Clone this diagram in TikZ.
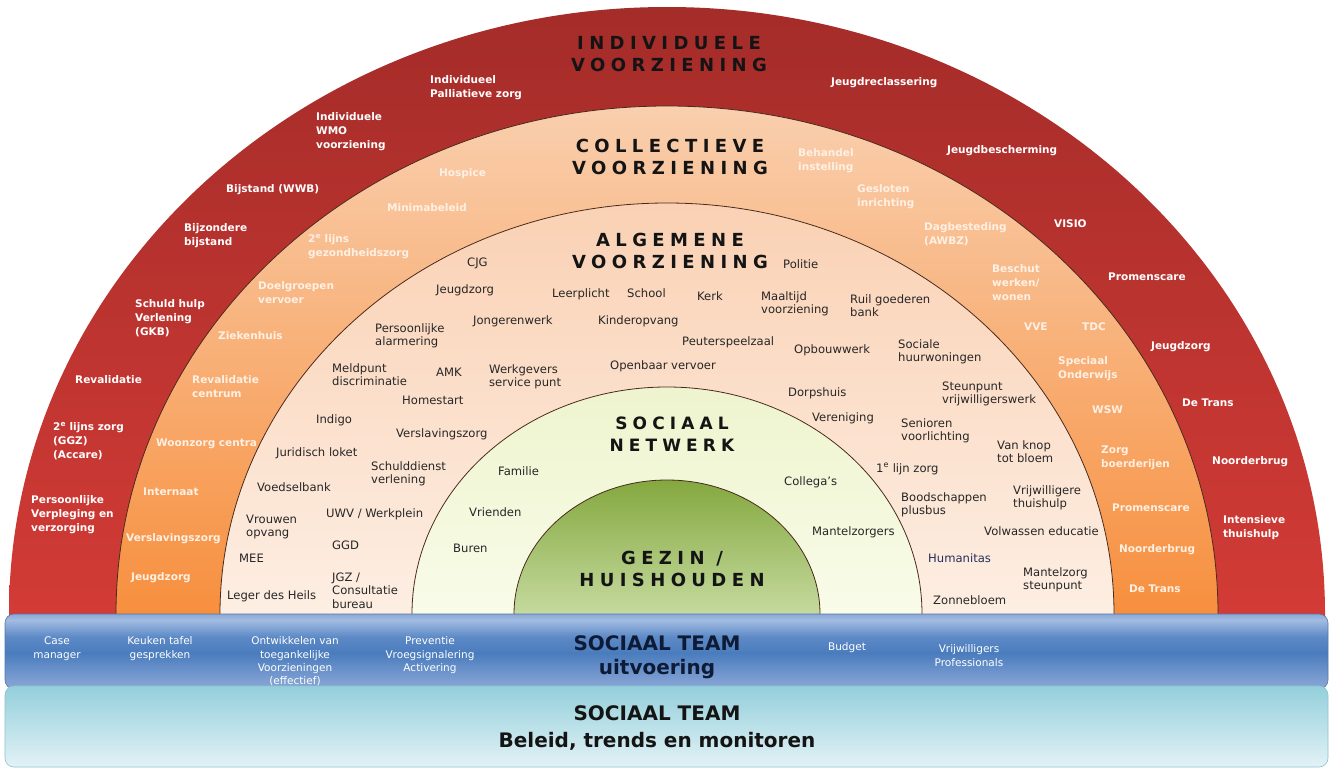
\documentclass[tikz,border=0pt]{standalone}
\usepackage{fontspec}
\setmainfont{DejaVu Sans}
\newfontfamily\headfont{DejaVu Sans}[LetterSpace=30]
\definecolor{redtop}{HTML}{A42C29}
\definecolor{redbot}{HTML}{D33B36}
\definecolor{ortop}{HTML}{F9CFAE}
\definecolor{orbot}{HTML}{F78E3C}
\definecolor{altop}{HTML}{FAD1B4}
\definecolor{albot}{HTML}{FDEFE4}
\definecolor{nwtop}{HTML}{EEF4CE}
\definecolor{nwbot}{HTML}{F9FCEA}
\definecolor{gztop}{HTML}{84A83F}
\definecolor{gzbot}{HTML}{C9DDA4}
\definecolor{ortext}{HTML}{FFF0E4}
\definecolor{altext}{HTML}{262626}
\definecolor{hdtext}{HTML}{141414}
\definecolor{navytext}{HTML}{0E1B36}
\definecolor{humtext}{HTML}{23305A}
\definecolor{ringline}{HTML}{4A2A1C}
\definecolor{bbA}{HTML}{8CA8D7}
\definecolor{bbB}{HTML}{6F95CC}
\definecolor{bbC}{HTML}{4A7CBD}
\definecolor{bbD}{HTML}{5E8AC6}
\definecolor{bbE}{HTML}{A2BCE2}
\definecolor{bbF}{HTML}{8BA8D6}
\definecolor{blueline}{HTML}{5577A8}
\definecolor{cyanA}{HTML}{93CFDB}
\definecolor{cyanC}{HTML}{E3F2F6}
\definecolor{cyanline}{HTML}{8CC2D2}
\pgfdeclareverticalshading{bluebar}{100bp}{color(0bp)=(bbA); color(25bp)=(bbA); color(36bp)=(bbB); color(49bp)=(bbC); color(60bp)=(bbD); color(71bp)=(bbE); color(75bp)=(bbF); color(100bp)=(bbF)}
\newcommand{\semiell}[5]{%
  \shade[top color=#3, bottom color=#4, draw=#5, line width=0.8pt]
    (667-#1,622) -- (667-#1,614) arc[start angle=180, end angle=0, x radius=#1pt, y radius=#2pt] -- (667+#1,622) -- cycle;}
\tikzset{
  rl/.style={font=\fontsize{10.5}{13.8}\selectfont\bfseries, text=white, align=left, anchor=base west, inner sep=0pt, yshift={-3.8pt-(#1-1)*13.8pt}},
  rl/.default=1,
  ol/.style={rl=#1, text=ortext},
  ol/.default=1,
  al/.style={font=\fontsize{11.6}{13.8}\selectfont, text=altext, align=left, anchor=base west, inner sep=0pt, yshift={-4pt-(#1-1)*13.8pt}},
  al/.default=1,
  hd/.style={font=\headfont\bfseries\fontsize{18}{21.5}\selectfont, text=hdtext, align=center, anchor=base, inner sep=0pt, yshift=-28pt},
  bl/.style={font=\fontsize{10.5}{13.4}\selectfont, text=white, align=center, anchor=base, inner sep=0pt, yshift={-3.7pt-(#1-1)*13.4pt}},
  bl/.default=1,
  st/.style={font=\fontsize{20}{24}\selectfont\bfseries, align=center, anchor=base, inner sep=0pt, yshift=-31.3pt},
}
\begin{document}
\begin{tikzpicture}[x=1pt,y=-1pt]
\useasboundingbox (0,0) rectangle (1334,771);
\fill[white] (0,0) rectangle (1334,771);
% rings
\semiell{658}{607}{redtop}{redbot}{none}
\semiell{551}{508}{ortop}{orbot}{ringline}
\semiell{447}{411}{altop}{albot}{ringline}
\semiell{255}{227}{nwtop}{nwbot}{ringline}
\semiell{153}{134}{gztop}{gzbot}{ringline}
% headings
\node[hd] (hInd) at (669,43) {INDIVIDUELE\\VOORZIENING};
\node[hd] (hCol) at (670,146) {COLLECTIEVE\\VOORZIENING};
\node[hd] (hAlg) at (670,240) {ALGEMENE\\VOORZIENING};
\node[hd, font=\headfont\bfseries\fontsize{17}{21.5}\selectfont] (hNet) at (672,423) {SOCIAAL\\NETWERK};
\node[hd] (hGez) at (672,558) {GEZIN /\\HUISHOUDEN};
% red ring
\node[rl=2] (r1) at (430,80) {Individueel\\Palliatieve zorg};
\node[rl=3] (r2) at (316,117) {Individuele\\WMO\\voorziening};
\node[rl] (r3) at (226,189) {Bijstand (WWB)};
\node[rl=2] (r4) at (184,228) {Bijzondere\\bijstand};
\node[rl=3] (r5) at (135,304) {Schuld hulp\\Verlening\\(GKB)};
\node[rl] (r6) at (75,380) {Revalidatie};
\node[rl=3] (r7) at (53,427) {2\textsuperscript{e} lijns zorg\\(GGZ)\\(Accare)};
\node[rl=3] (r8) at (31,500) {Persoonlijke\\Verpleging en\\verzorging};
\node[rl] (r9) at (831,82) {Jeugdreclassering};
\node[rl] (r10) at (947,150) {Jeugdbescherming};
\node[rl] (r11) at (1054,224) {VISIO};
\node[rl] (r12) at (1108,277) {Promenscare};
\node[rl] (r13) at (1151,346) {Jeugdzorg};
\node[rl] (r14) at (1182,403) {De Trans};
\node[rl] (r15) at (1212,461) {Noorderbrug};
\node[rl=2] (r16) at (1223,520) {Intensieve\\thuishulp};
% orange ring
\node[ol] (o1) at (439,173) {Hospice};
\node[ol] (o2) at (387,208) {Minimabeleid};
\node[ol=2] (o3) at (308,239) {2\textsuperscript{e} lijns\\gezondheidszorg};
\node[ol=2] (o4) at (258,286) {Doelgroepen\\vervoer};
\node[ol] (o5) at (218,336) {Ziekenhuis};
\node[ol=2] (o6) at (192,380) {Revalidatie\\centrum};
\node[ol] (o7) at (156,443) {Woonzorg centra};
\node[ol] (o8) at (143,492) {Internaat};
\node[ol] (o9) at (126,538) {Verslavingszorg};
\node[ol] (o10) at (131,577) {Jeugdzorg};
\node[ol=2] (o11) at (798,153) {Behandel\\instelling};
\node[ol=2] (o12) at (857,189) {Gesloten\\inrichting};
\node[ol=2] (o13) at (924,227) {Dagbesteding\\(AWBZ)};
\node[ol=3] (o14) at (992,269) {Beschut\\werken/\\wonen};
\node[ol] (o15) at (1024,327) {VVE};
\node[ol] (o16) at (1082,327) {TDC};
\node[ol=2] (o17) at (1058,361) {Speciaal\\Onderwijs};
\node[ol] (o18) at (1092,410) {WSW};
\node[ol=2] (o19) at (1101,450) {Zorg\\boerderijen};
\node[ol] (o20) at (1112,508) {Promenscare};
\node[ol] (o21) at (1119,549) {Noorderbrug};
\node[ol] (o22) at (1129,589) {De Trans};
% algemene
\node[al] (a1) at (467,262) {CJG};
\node[al] (a2) at (436,289) {Jeugdzorg};
\node[al] (a3) at (552,293) {Leerplicht};
\node[al] (a4) at (627,293) {School};
\node[al] (a5) at (697,296) {Kerk};
\node[al=2] (a6) at (761,296) {Maaltijd\\voorziening};
\node[al=2] (a7) at (850,299) {Ruil goederen\\bank};
\node[al] (a8) at (783,264) {Politie};
\node[al=2] (a9) at (375,328) {Persoonlijke\\alarmering};
\node[al] (a10) at (473,320) {Jongerenwerk};
\node[al] (a11) at (598,320) {Kinderopvang};
\node[al] (a12) at (682,341) {Peuterspeelzaal};
\node[al] (a13) at (794,349) {Opbouwwerk};
\node[al=2] (a14) at (898,344) {Sociale\\huurwoningen};
\node[al=2] (a15) at (332,368) {Meldpunt\\discriminatie};
\node[al] (a16) at (436,372) {AMK};
\node[al=2] (a17) at (489,369) {Werkgevers\\service punt};
\node[al] (a18) at (610,365) {Openbaar vervoer};
\node[al] (a19) at (402,400) {Homestart};
\node[al] (a20) at (788,392) {Dorpshuis};
\node[al=2] (a21) at (942,386) {Steunpunt\\vrijwilligerswerk};
\node[al] (a22) at (316,419) {Indigo};
\node[al] (a23) at (812,417) {Vereniging};
\node[al] (a24) at (396,433) {Verslavingszorg};
\node[al=2] (a25) at (901,423) {Senioren\\voorlichting};
\node[al] (a26) at (276,452) {Juridisch loket};
\node[al=2] (a27) at (371,466) {Schulddienst\\verlening};
\node[al=2] (a28) at (997,445) {Van knop\\tot bloem};
\node[al] (a29) at (876,468) {1\textsuperscript{e} lijn zorg};
\node[al] (a30) at (257,487) {Voedselbank};
\node[al=2] (a31) at (901,497) {Boodschappen\\plusbus};
\node[al=2] (a32) at (1013,490) {Vrijwilligere\\thuishulp};
\node[al] (a33) at (326,513) {UWV / Werkplein};
\node[al=2] (a34) at (246,519) {Vrouwen\\opvang};
\node[al] (a35) at (984,531) {Volwassen educatie};
\node[al] (a36) at (332,545) {GGD};
\node[al] (a37) at (239,558) {MEE};
\node[al, text=humtext] (a38) at (928,558) {Humanitas};
\node[al=3] (a39) at (332,577) {JGZ /\\Consultatie\\bureau};
\node[al] (a40) at (227,595) {Leger des Heils};
\node[al=2] (a41) at (1023,572) {Mantelzorg\\steunpunt};
\node[al] (a42) at (933,600) {Zonnebloem};
% sociaal netwerk
\node[al] (n1) at (498,471) {Familie};
\node[al] (n2) at (784,481) {Collega's};
\node[al] (n3) at (469,512) {Vrienden};
\node[al] (n4) at (812,531) {Mantelzorgers};
\node[al] (n5) at (453,548) {Buren};
% blue bar
\shade[rounded corners=9pt, shading=bluebar, draw=blueline, line width=0.6pt] (5,614) rectangle (1328,689);
\node[bl=2] (b1) at (57,641) {Case\\manager};
\node[bl=2] (b2) at (160,641) {Keuken tafel\\gesprekken};
\node[bl=4] (b3) at (295,641) {Ontwikkelen van\\toegankelijke\\Voorzieningen\\(effectief)};
\node[bl=3] (b4) at (430,641) {Preventie\\Vroegsignalering\\Activering};
\node[bl] (b5) at (847,647) {Budget};
\node[bl=2] (b6) at (969,649) {Vrijwilligers\\Professionals};
\node[st, text=navytext] (t1) at (657,643) {SOCIAAL TEAM\\uitvoering};
% light bar
\shade[rounded corners=9pt, top color=cyanA, bottom color=cyanC, draw=cyanline, line width=0.6pt] (5,686) rectangle (1328,767);
\node[st, text=hdtext, font=\fontsize{20}{27}\selectfont\bfseries, yshift=-3pt] (t2) at (657,713) {SOCIAAL TEAM\\Beleid, trends en monitoren};
\end{tikzpicture}
\end{document}
